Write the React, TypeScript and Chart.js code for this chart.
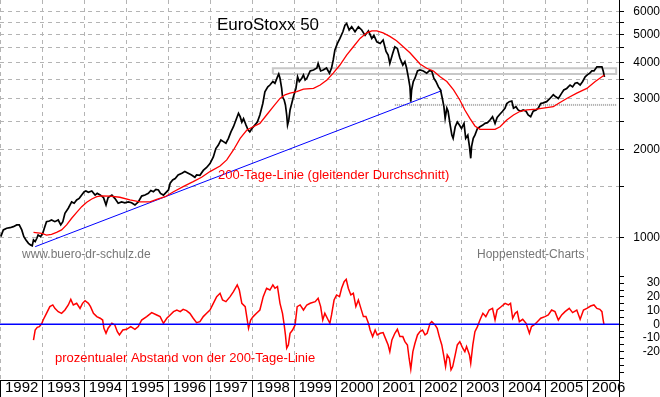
import React, { useEffect, useRef } from "react";
import { Chart, registerables } from "chart.js";

Chart.register(...registerables);

const FONT = '"Liberation Sans", Arial, Helvetica, sans-serif';

// ---- axis ranges ----
const X_MIN = 1991.981;
const X_MAX = 2006.747;
const PRICE_MIN = 765;
const PRICE_MAX = 6580;
const OSC_MIN = -40.7;
const OSC_MAX = 38.9;

// ---- tick labels ----
const yearTicks = [1992, 1993, 1994, 1995, 1996, 1997, 1998, 1999, 2000, 2001, 2002, 2003, 2004, 2005, 2006];
const priceTicks = [1000, 1500, 2000, 2500, 3000, 3500, 4000, 4500, 5000, 5500, 6000];
const priceLabels = [1000, 2000, 3000, 4000, 5000, 6000];
const oscTicks = [-35, -30, -25, -20, -15, -10, -5, 0, 5, 10, 15, 20, 25, 30, 35];
const oscLabels = [-20, -10, 0, 10, 20, 30];

// ---- EuroStoxx 50 (black) ----
const priceYears = [
  1992.00, 1992.06, 1992.14, 1992.22, 1992.30, 1992.38, 1992.44, 1992.50, 1992.55, 1992.60,
  1992.66, 1992.71, 1992.75, 1992.78, 1992.82, 1992.86, 1992.89, 1992.95, 1993.00, 1993.05,
  1993.09, 1993.16, 1993.21, 1993.29, 1993.37, 1993.43, 1993.48, 1993.53, 1993.61, 1993.69,
  1993.75, 1993.81, 1993.87, 1993.93, 1993.99, 1994.03, 1994.09, 1994.17, 1994.25, 1994.30,
  1994.37, 1994.45, 1994.51, 1994.56, 1994.65, 1994.72, 1994.80, 1994.88, 1994.96, 1995.04,
  1995.12, 1995.20, 1995.28, 1995.36, 1995.44, 1995.52, 1995.58, 1995.64, 1995.70, 1995.76,
  1995.81, 1995.88, 1995.92, 1996.00, 1996.04, 1996.10, 1996.16, 1996.23, 1996.32, 1996.39,
  1996.47, 1996.55, 1996.63, 1996.67, 1996.75, 1996.83, 1996.91, 1996.99, 1997.07, 1997.13,
  1997.19, 1997.25, 1997.31, 1997.37, 1997.43, 1997.49, 1997.55, 1997.61, 1997.67, 1997.71,
  1997.75, 1997.79, 1997.85, 1997.90, 1997.94, 1997.99, 1998.06, 1998.12, 1998.18, 1998.25,
  1998.30, 1998.37, 1998.42, 1998.49, 1998.54, 1998.60, 1998.63, 1998.66, 1998.70, 1998.72,
  1998.76, 1998.79, 1998.82, 1998.84, 1998.87, 1998.90, 1998.94, 1998.98, 1999.04, 1999.08,
  1999.12, 1999.18, 1999.22, 1999.26, 1999.30, 1999.38, 1999.46, 1999.54, 1999.57, 1999.63,
  1999.69, 1999.77, 1999.84, 1999.89, 1999.93, 1999.97, 2000.03, 2000.09, 2000.16, 2000.21,
  2000.25, 2000.31, 2000.37, 2000.45, 2000.53, 2000.61, 2000.69, 2000.77, 2000.85, 2000.90,
  2000.97, 2001.05, 2001.12, 2001.19, 2001.24, 2001.28, 2001.35, 2001.40, 2001.46, 2001.52,
  2001.59, 2001.64, 2001.68, 2001.72, 2001.76, 2001.78, 2001.80, 2001.84, 2001.88, 2001.94,
  2002.00, 2002.08, 2002.16, 2002.22, 2002.28, 2002.33, 2002.38, 2002.44, 2002.49, 2002.54,
  2002.57, 2002.60, 2002.64, 2002.67, 2002.72, 2002.76, 2002.79, 2002.84, 2002.89, 2002.94,
  2002.99, 2003.05, 2003.09, 2003.14, 2003.18, 2003.21, 2003.23, 2003.27, 2003.31, 2003.37,
  2003.43, 2003.50, 2003.55, 2003.61, 2003.67, 2003.73, 2003.79, 2003.84, 2003.91, 2003.97,
  2004.03, 2004.07, 2004.13, 2004.19, 2004.23, 2004.29, 2004.34, 2004.40, 2004.46, 2004.53,
  2004.58, 2004.64, 2004.70, 2004.77, 2004.82, 2004.88, 2004.94, 2005.02, 2005.10, 2005.18,
  2005.24, 2005.30, 2005.38, 2005.43, 2005.50, 2005.58, 2005.64, 2005.70, 2005.75, 2005.82,
  2005.88, 2005.94, 2005.99, 2006.05, 2006.10, 2006.15, 2006.22, 2006.28, 2006.34, 2006.37,
  2006.40,
];
const priceValues = [
  1005, 1060, 1074, 1079, 1088, 1103, 1103, 1060, 1005, 979,
  953, 941, 935, 979, 966, 992, 1018, 1005, 1032, 1088,
  1132, 1138, 1147, 1132, 1147, 1103, 1132, 1210, 1259, 1324,
  1310, 1345, 1362, 1398, 1436, 1444, 1430, 1444, 1398, 1417,
  1400, 1370, 1292, 1370, 1398, 1362, 1310, 1324, 1315, 1324,
  1315, 1292, 1324, 1387, 1398, 1417, 1450, 1436, 1463, 1456,
  1417, 1398, 1417, 1456, 1536, 1576, 1594, 1640, 1662, 1685,
  1662, 1640, 1610, 1640, 1635, 1700, 1740, 1796, 1893, 2022,
  2080, 2165, 2137, 2110, 2193, 2310, 2405, 2538, 2676, 2605,
  2496, 2567, 2437, 2344, 2310, 2372, 2437, 2496, 2640, 2893,
  3176, 3300, 3350, 3445, 3397, 3575, 3656, 3535, 3260, 3050,
  2975, 2860, 2640, 2437, 2538, 2748, 2893, 3050, 3260, 3575,
  3445, 3535, 3630, 3487, 3535, 3746, 3775, 3834, 3977, 3746,
  3775, 3834, 3680, 3834, 4087, 4425, 4660, 4850, 5115, 5385,
  5460, 5186, 5320, 5115, 5320, 5186, 4970, 5150, 4850, 4970,
  4720, 4660, 4790, 4370, 4250, 3977, 4310, 4540, 4480, 4150,
  3926, 4035, 3834, 3575, 3300, 2935, 3221, 3445, 3535, 3746,
  3775, 3746, 3680, 3746, 3746, 3535, 3445, 3300, 3221, 2975,
  2820, 2570, 2787, 2720, 2437, 2250, 2193, 2405, 2496, 2437,
  2372, 2470, 2193, 2250, 2053, 1872, 2053, 2193, 2250, 2372,
  2405, 2437, 2470, 2484, 2538, 2605, 2470, 2590, 2660, 2720,
  2790, 2893, 2935, 2950, 2787, 2820, 2748, 2720, 2748, 2720,
  2640, 2605, 2720, 2748, 2787, 2893, 2907, 2935, 3011, 3100,
  3050, 3011, 3140, 3221, 3260, 3350, 3300, 3397, 3415, 3350,
  3445, 3575, 3630, 3680, 3746, 3746, 3870, 3870, 3870, 3746,
  3575,
];

// ---- 200-Tage-Linie (red) ----
const maYears = [
  1992.78, 1992.98, 1993.09, 1993.21, 1993.33, 1993.45, 1993.57, 1993.69, 1993.81, 1993.93,
  1994.05, 1994.17, 1994.29, 1994.41, 1994.61, 1994.84, 1995.08, 1995.32, 1995.56, 1995.72,
  1995.92, 1996.12, 1996.35, 1996.59, 1996.79, 1996.99, 1997.23, 1997.39, 1997.55, 1997.71,
  1997.87, 1998.02, 1998.18, 1998.34, 1998.50, 1998.66, 1998.78, 1998.90, 1999.06, 1999.22,
  1999.46, 1999.62, 1999.78, 1999.93, 2000.09, 2000.25, 2000.41, 2000.57, 2000.73, 2000.85,
  2000.97, 2001.12, 2001.28, 2001.44, 2001.60, 2001.76, 2001.84, 2002.00, 2002.16, 2002.32,
  2002.48, 2002.64, 2002.80, 2002.95, 2003.07, 2003.19, 2003.31, 2003.43, 2003.59, 2003.79,
  2003.91, 2004.07, 2004.23, 2004.39, 2004.55, 2004.78, 2005.02, 2005.18, 2005.30, 2005.50,
  2005.74, 2005.98, 2006.18, 2006.29, 2006.40,
];
const maValues = [
  1040, 1032, 1018, 1024, 1040, 1060, 1103, 1163, 1219, 1275,
  1320, 1355, 1380, 1390, 1387, 1374, 1345, 1324, 1324, 1352,
  1380, 1436, 1495, 1555, 1610, 1685, 1760, 1848, 2000, 2193,
  2344, 2405, 2470, 2640, 2820, 3011, 3100, 3140, 3176, 3240,
  3260, 3350, 3487, 3680, 3926, 4250, 4540, 4850, 5070, 5150,
  5150, 5070, 4930, 4760, 4540, 4330, 4200, 3960, 3826, 3746,
  3575, 3445, 3221, 2975, 2748, 2570, 2420, 2356, 2356, 2356,
  2405, 2538, 2640, 2720, 2748, 2767, 2800, 2820, 2893, 3011,
  3140, 3260, 3445, 3535, 3630,
];

// ---- prozentualer Abstand von der 200-Tage-Linie (red, lower panel) ----
const oscYears = [
  1992.78, 1992.82, 1992.87, 1992.92, 1992.98, 1993.01, 1993.09, 1993.17, 1993.24, 1993.29,
  1993.37, 1993.45, 1993.53, 1993.61, 1993.67, 1993.73, 1993.81, 1993.89, 1993.95, 1994.01,
  1994.09, 1994.14, 1994.21, 1994.29, 1994.37, 1994.43, 1994.46, 1994.51, 1994.56, 1994.65,
  1994.72, 1994.78, 1994.83, 1994.91, 1995.00, 1995.10, 1995.20, 1995.28, 1995.36, 1995.48,
  1995.60, 1995.72, 1995.80, 1995.88, 1995.96, 1996.04, 1996.12, 1996.20, 1996.28, 1996.35,
  1996.43, 1996.51, 1996.59, 1996.67, 1996.75, 1996.83, 1996.91, 1996.99, 1997.07, 1997.15,
  1997.23, 1997.29, 1997.37, 1997.47, 1997.55, 1997.64, 1997.69, 1997.75, 1997.83, 1997.88,
  1997.91, 1997.96, 1998.02, 1998.10, 1998.18, 1998.26, 1998.34, 1998.42, 1998.49, 1998.54,
  1998.60, 1998.66, 1998.72, 1998.76, 1998.79, 1998.82, 1998.86, 1998.90, 1998.96, 1999.02,
  1999.07, 1999.14, 1999.22, 1999.30, 1999.38, 1999.50, 1999.57, 1999.63, 1999.68, 1999.73,
  1999.81, 1999.85, 1999.89, 1999.95, 2000.01, 2000.08, 2000.13, 2000.19, 2000.24, 2000.29,
  2000.35, 2000.41, 2000.47, 2000.53, 2000.59, 2000.65, 2000.71, 2000.77, 2000.81, 2000.87,
  2000.93, 2000.98, 2001.05, 2001.12, 2001.19, 2001.24, 2001.28, 2001.33, 2001.40, 2001.46,
  2001.52, 2001.59, 2001.64, 2001.70, 2001.74, 2001.78, 2001.83, 2001.88, 2001.94, 2002.00,
  2002.06, 2002.12, 2002.17, 2002.24, 2002.28, 2002.36, 2002.41, 2002.46, 2002.52, 2002.57,
  2002.61, 2002.65, 2002.70, 2002.74, 2002.78, 2002.84, 2002.89, 2002.95, 2003.02, 2003.07,
  2003.11, 2003.18, 2003.21, 2003.26, 2003.31, 2003.37, 2003.43, 2003.50, 2003.57, 2003.65,
  2003.73, 2003.79, 2003.84, 2003.92, 2004.03, 2004.11, 2004.16, 2004.21, 2004.27, 2004.32,
  2004.37, 2004.45, 2004.53, 2004.61, 2004.66, 2004.72, 2004.80, 2004.88, 2004.98, 2005.06,
  2005.14, 2005.22, 2005.30, 2005.38, 2005.46, 2005.56, 2005.64, 2005.74, 2005.82, 2005.90,
  2005.98, 2006.07, 2006.15, 2006.22, 2006.29, 2006.34, 2006.37, 2006.39,
];
const oscValues = [
  -11.5, -4.2, -2.2, -1.7, 0.7, 3.1, 8, 12.9, 14.1, 11.6,
  9.2, 8, 10.4, 14.1, 18.2, 14.1, 15.3, 11.6, 15.3, 17.2,
  15.3, 12.9, 8, 5.6, 4.4, 3.1, -2.9, -6.6, -2.9, 0.7,
  -0.5, -5.4, -7.8, -4.2, -3.7, -1.7, -3.7, -1.7, 3.1, 5.6,
  8.5, 6.8, 5.6, 0.7, 4.4, 6.8, 9.2, 10.4, 9.2, 10.9,
  10, 8, 4.4, 1.2, 1.9, 5.6, 8, 10.4, 15.3, 20.2,
  22.6, 17.7, 16.5, 20.2, 23.8, 28.7, 25, 15.3, 12.9, 3.1,
  -2.9, 3.1, 5.6, 8, 10.4, 20.2, 26.3, 25, 28.7, 26.3,
  27.5, 15.3, 8, -0.5, -7.8, -17.5, -15.1, -6.6, -4.2, -0.5,
  12.9, 14.1, 10.4, 14.1, 15.3, 16.5, 19, 12.9, 3.1, 8,
  3.1, 0.7, 6.8, 17.7, 21.4, 20.2, 26.3, 31.1, 32.8, 26.3,
  21.4, 22.6, 12.9, 17.7, 11.6, 5.6, 5.6, 0.7, -4.2, -9.0,
  -4.2, -7.8, -6.6, -6.1, -11.4, -15.1, -20.0, -11.4, -6.6, -3.7,
  -9, -9, -12.7, -15.1, -24.8, -32.8, -20, -13.9, -7.8, -5.4,
  -4.2, -7.8, -6.6, 0.7, 1.9, -0.5, -2.9, -9, -15.1, -23.6,
  -30.9, -22.4, -24.8, -33.3, -30.9, -22.4, -15.1, -12.7, -17.5, -20,
  -16.3, -22.4, -28.5, -15.1, -5.4, -1.7, 3.1, 8, 5.6, 10.4,
  11.6, 3.1, 10.4, 12.4, 15.3, 14.1, 15.3, 4.4, 8, 9.2,
  1.9, 3.6, 0.7, -6.6, -1.7, -0.5, 1.9, 4.4, 5.6, 6.8,
  10.4, 9.2, 3.1, 6.8, 9.2, 11.6, 8.5, 10.4, 3.6, 10.4,
  11.6, 13.3, 14.1, 11.6, 10.9, 9.2, 3.1, -0.5,
];

// ---- helper lines ----
const trendYears = [1992.82, 2002.52];
const trendValues = [928, 3203];
const zoneYears = [1998.49, 2006.68, 2006.68, 1998.49, 1998.49];
const zoneValues = [3656, 3656, 3826, 3826, 3656];
const supportYears = [2001.4, 2006.7];
const supportValues = [2860, 2860];
const zeroYears = [X_MIN, X_MAX];
const zeroValues = [0, 0];

const pts = (xs: number[], ys: number[]) => xs.map((x, i) => ({ x, y: ys[i] }));

const zeroPad = (s: any) => {
  s.paddingLeft = 0;
  s.paddingRight = 0;
  s.paddingTop = 0;
  s.paddingBottom = 0;
};

const lineDs = (label: string, data: any[], color: string, width: number, order: number, extra: any = {}) => ({
  label,
  data,
  borderColor: color,
  backgroundColor: color,
  borderWidth: width,
  pointRadius: 0,
  pointHoverRadius: 0,
  tension: 0,
  fill: false,
  order,
  ...extra,
});

const topText = {
  id: "topText",
  afterDatasetsDraw(chart: any) {
    const { ctx } = chart;
    ctx.save();
    ctx.textAlign = "left";
    ctx.textBaseline = "middle";
    ctx.fillStyle = "#000000";
    ctx.font = `17px ${FONT}`;
    ctx.fillText("EuroStoxx 50", 217, 25);
    ctx.fillStyle = "#ff0000";
    ctx.font = `13px ${FONT}`;
    ctx.fillText("200-Tage-Linie (gleitender Durchschnitt)", 218, 175);
    ctx.fillStyle = "#777777";
    ctx.font = `12px ${FONT}`;
    ctx.fillText("www.buero-dr-schulz.de", 22, 255);
    ctx.fillText("Hoppenstedt-Charts", 477, 255);
    ctx.restore();
  },
};

const bottomText = {
  id: "bottomText",
  afterDatasetsDraw(chart: any) {
    const { ctx } = chart;
    ctx.save();
    ctx.textAlign = "left";
    ctx.textBaseline = "middle";
    ctx.fillStyle = "#ff0000";
    ctx.font = `13px ${FONT}`;
    ctx.fillText("prozentualer Abstand von der 200-Tage-Linie", 55, 87);
    ctx.restore();
  },
};

const GRID = "#b4b4b4";
const DASH = [4, 4];

export default function App() {
  const topRef = useRef<HTMLCanvasElement>(null);
  const botRef = useRef<HTMLCanvasElement>(null);

  useEffect(() => {
    Chart.defaults.font.family = FONT;
    const top = new Chart(topRef.current as HTMLCanvasElement, {
      type: "line",
      data: {
        datasets: [
          lineDs("200-Tage-Linie", pts(maYears, maValues), "#ff0000", 1.3, 0),
          lineDs("EuroStoxx 50", pts(priceYears, priceValues), "#000000", 1.7, 1),
          lineDs("Trendlinie", pts(trendYears, trendValues), "#0000ff", 1, 2),
          lineDs("Unterstützung", pts(supportYears, supportValues), "#a8a8a8", 2, 3, { borderDash: [1, 1] }),
          lineDs("Widerstandszone", pts(zoneYears, zoneValues), "#c8c8c8", 2, 4),
        ],
      } as any,
      options: {
        responsive: false,
        maintainAspectRatio: false,
        animation: false,
        devicePixelRatio: 1,
        events: [],
        layout: { padding: 0 },
        plugins: { legend: { display: false }, tooltip: { enabled: false }, title: { display: false } },
        scales: {
          x: {
            type: "linear",
            min: X_MIN,
            max: X_MAX,
            afterBuildTicks: (s: any) => {
              s.ticks = [...yearTicks, X_MAX].map((v) => ({ value: v }));
            },
            afterFit: (s: any) => {
              s.height = 0;
              zeroPad(s);
            },
            ticks: { display: false, autoSkip: false },
            grid: { color: GRID, lineWidth: 1, drawTicks: false },
            border: { display: true, color: "#000000", width: 1, dash: DASH },
          },
          y: {
            type: "logarithmic",
            position: "right",
            min: PRICE_MIN,
            max: PRICE_MAX,
            afterBuildTicks: (s: any) => {
              s.ticks = priceTicks.map((v) => ({ value: v }));
            },
            afterFit: (s: any) => {
              s.width = 41;
              zeroPad(s);
            },
            ticks: {
              autoSkip: false,
              padding: 5,
              crossAlign: "far",
              color: "#000000",
              font: { family: FONT, size: 12 },
              callback: (v: any) => (priceLabels.includes(Number(v)) ? String(v) : ""),
            },
            grid: { color: GRID, lineWidth: 1, drawTicks: true, tickLength: 5, tickColor: "#000000", tickWidth: 1 },
            border: { display: true, color: "#000000", width: 1, dash: DASH },
          },
        },
      } as any,
      plugins: [topText],
    });

    const bottom = new Chart(botRef.current as HTMLCanvasElement, {
      type: "line",
      data: {
        datasets: [
          lineDs("Nulllinie", pts(zeroYears, zeroValues), "#0000ff", 1.5, 0),
          lineDs("Abstand zur 200-Tage-Linie", pts(oscYears, oscValues), "#ff0000", 1.5, 1),
        ],
      } as any,
      options: {
        responsive: false,
        maintainAspectRatio: false,
        animation: false,
        devicePixelRatio: 1,
        events: [],
        layout: { padding: 0 },
        plugins: { legend: { display: false }, tooltip: { enabled: false }, title: { display: false } },
        scales: {
          x: {
            type: "linear",
            min: X_MIN,
            max: X_MAX,
            afterBuildTicks: (s: any) => {
              s.ticks = [...yearTicks, X_MAX].map((v) => ({ value: v }));
            },
            afterFit: (s: any) => {
              s.height = 17;
              zeroPad(s);
            },
            ticks: {
              display: true,
              autoSkip: false,
              maxRotation: 0,
              minRotation: 0,
              align: "start",
              padding: -18,
              color: "#000000",
              font: { family: FONT, size: 15 },
              callback: (v: any) => (yearTicks.includes(Number(v)) ? " " + v : ""),
            },
            grid: { color: GRID, lineWidth: 1, drawTicks: true, tickLength: 17, tickColor: "#000000", tickWidth: 1 },
            border: { display: true, color: "#000000", width: 1, dash: DASH },
          },
          y: {
            type: "linear",
            position: "right",
            min: OSC_MIN,
            max: OSC_MAX,
            afterBuildTicks: (s: any) => {
              s.ticks = oscTicks.map((v) => ({ value: v }));
            },
            afterFit: (s: any) => {
              s.width = 41;
              zeroPad(s);
            },
            ticks: {
              autoSkip: false,
              padding: 15,
              crossAlign: "far",
              color: "#000000",
              font: { family: FONT, size: 12 },
              callback: (v: any) => (oscLabels.includes(Number(v)) ? String(v) : ""),
            },
            grid: { drawOnChartArea: false, drawTicks: true, tickLength: 5, tickColor: "#000000", tickWidth: 1 },
            border: { display: true, color: "#000000", width: 1 },
          },
        },
      } as any,
      plugins: [bottomText],
    });

    return () => {
      top.destroy();
      bottom.destroy();
    };
  }, []);

  return (
    <div style={{ position: "fixed", left: 0, top: 0, width: 660, height: 397, background: "#ffffff", overflow: "hidden" }}>
      <canvas
        ref={topRef}
        width={660}
        height={271}
        style={{ position: "absolute", left: 0, top: 0, width: 660, height: 271, display: "block" }}
      />
      <canvas
        ref={botRef}
        width={660}
        height={126}
        style={{ position: "absolute", left: 0, top: 271, width: 660, height: 126, display: "block" }}
      />
    </div>
  );
}
